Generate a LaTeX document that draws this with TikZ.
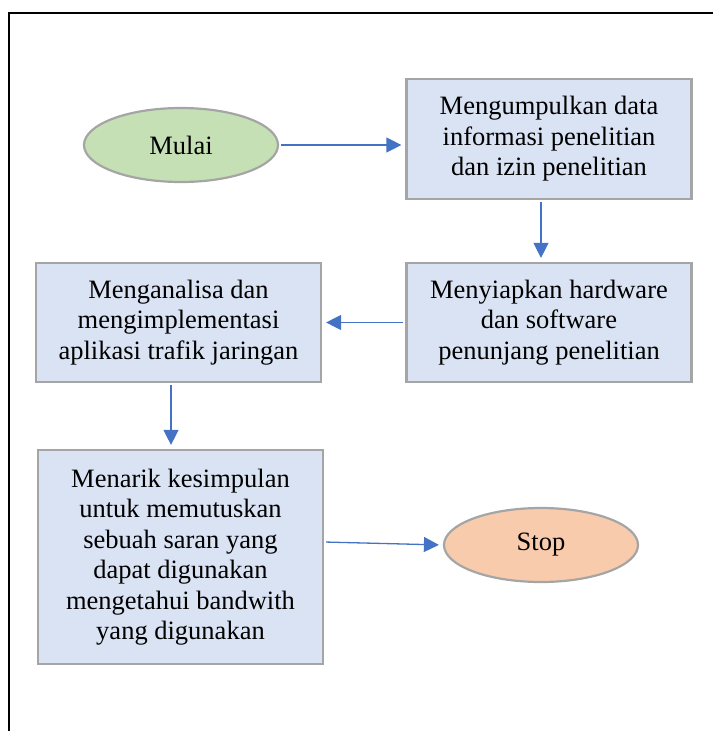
\documentclass[tikz,border=0pt]{standalone}
\usepackage{fontspec}
\setmainfont{Liberation Serif}
\usetikzlibrary{arrows.meta,shapes.geometric}
\definecolor{startgreen}{HTML}{C5E0B4}
\definecolor{stoporange}{HTML}{F8CBAD}
\definecolor{boxblue}{HTML}{DAE3F3}
\definecolor{edgegray}{HTML}{A5A5A5}
\definecolor{arrowblue}{HTML}{4472C4}
\begin{document}
\begin{tikzpicture}[
	x=1pt, y=-1pt,
	every node/.style={
		font=\fontsize{26.5}{30.5}\selectfont, align=center, inner sep=0pt
	},
	terminal/.style={
		ellipse, draw=edgegray, line width=2.2pt
	},
	process/.style={
		rectangle, draw=edgegray, fill=boxblue, line width=2.2pt,
		minimum width=285pt
	},
	flow/.style={
		draw=arrowblue, line width=1.3pt, -{Triangle[length=15pt,width=15pt]},
		shorten >=4pt, shorten <=2pt
	}
	]
	\useasboundingbox (0,0) rectangle (713,731);
	
	% page frame
	\draw[line width=1.5pt] (9,731) -- (9,13) -- (713,13);
	
	% start / stop
	\node[terminal, fill=startgreen, minimum width=194pt, minimum height=74pt] (mulai) at (181,145) {Mulai};
	\node[terminal, fill=stoporange, minimum width=194pt, minimum height=74pt] (stop) at (541,545) {Stop};
	
	% process steps
	\node[process, minimum height=120pt] (kumpul) at (549,139)
		{Mengumpulkan data\\informasi penelitian\\dan izin penelitian};
	\node[process, minimum height=119pt] (siap) at (549,322.5)
		{Menyiapkan hardware\\dan software\\penunjang penelitian};
	\node[process, minimum height=119pt] (analisa) at (178.5,322.5)
		{Menganalisa dan\\mengimplementasi\\aplikasi trafik jaringan};
	\node[process, minimum height=214pt] (simpul) at (180.5,557)
		{Menarik kesimpulan\\untuk memutuskan\\sebuah saran yang\\dapat digunakan\\mengetahui bandwith\\yang digunakan};
	
	% connectors
	\draw[flow] (mulai.east) -- (mulai.east -| kumpul.west);
	\draw[flow] ([xshift=-8pt]kumpul.south) -- ([xshift=-8pt]siap.north);
	\draw[flow] (siap.west) -- (siap.west -| analisa.east);
	\draw[flow] ([xshift=-7.5pt]analisa.south) -- ([xshift=-7.5pt]analisa.south |- simpul.north);
	\draw[flow] ([yshift=15pt]simpul.east) -- (stop.west);
	
\end{tikzpicture}
\end{document}
